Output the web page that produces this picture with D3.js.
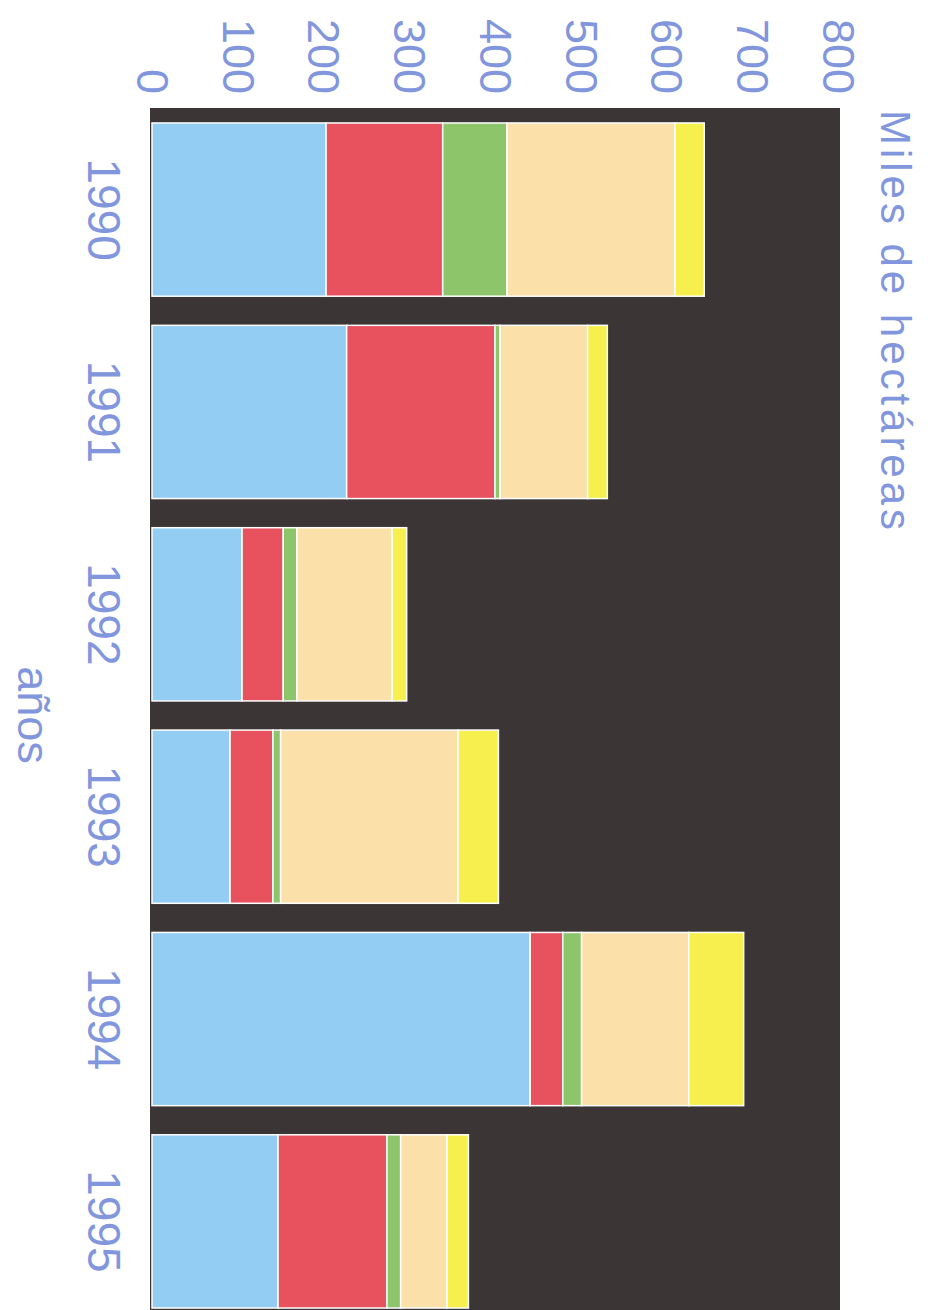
<!DOCTYPE html>
<html><head><meta charset="utf-8">
<script src="https://cdn.jsdelivr.net/npm/d3@7"></script>
<style>body{margin:0;background:#fff}svg{display:block}</style>
</head><body>
<svg id="c" width="931" height="1310"></svg>
<script>
// Data (miles de hectáreas), stacked from left to right
const years = ["1990","1991","1992","1993","1994","1995"];
const seriesKeys = ["s1","s2","s3","s4","s5"];
const s1 = [203, 227, 105, 91, 441, 147];   // azul
const s2 = [136, 173, 48, 50, 38, 127];     // rojo
const s3 = [75, 6, 16, 9, 22, 16];          // verde
const s4 = [196, 102, 111, 207, 125, 54];   // crema
const s5 = [34, 23, 17, 47, 64, 25];        // amarillo
const tickValues = [0,100,200,300,400,500,600,700,800];
const valueTitle = "Miles de hectáreas";
const catTitle = "años";

const colors = ["#93cdf3","#e8525f","#8dc66a","#fce0aa","#f6ef4e"];
const textColor = "#8196dc";
const font = "'Liberation Sans', Arial, sans-serif";

const rows = years.map((y,i)=>({year:y, s1:s1[i], s2:s2[i], s3:s3[i], s4:s4[i], s5:s5[i]}));
const stack = d3.stack().keys(seriesKeys)(rows);

const svg = d3.select("#c");
const x = d3.scaleLinear().domain([0,800]).range([152,838]);
const y = d3.scaleBand().domain(years).range([108,1323]).paddingInner(0.144).paddingOuter(0.074);

// plot background
svg.append("rect").attr("x", x(0)-2).attr("y", 108).attr("width", 840-(x(0)-2)).attr("height", 1323-108)
  .attr("fill", "#3b3536");

// bars
svg.append("g").selectAll("g").data(stack).join("g")
  .attr("fill", (d,i)=>colors[i])
  .selectAll("rect").data(d=>d).join("rect")
  .attr("x", d=>x(d[0]))
  .attr("width", d=>x(d[1])-x(d[0]))
  .attr("y", d=>y(d.data.year))
  .attr("height", y.bandwidth())
  .attr("stroke", "#ffffff").attr("stroke-width", 1.5);

// value axis (top)
const gx = svg.append("g").call(d3.axisTop(x).tickValues(tickValues).tickSize(0).tickFormat(d3.format("d")));
gx.select(".domain").remove();
gx.selectAll("text")
  .attr("x", 0).attr("y", 0).attr("dy", "0.35em")
  .attr("text-anchor", "end")
  .attr("transform", "translate(0,94) rotate(90)")
  .attr("fill", textColor).attr("font-size", 45).attr("font-family", font);

// category axis (left)
const gy = svg.append("g").call(d3.axisLeft(y).tickSize(0));
gy.select(".domain").remove();
gy.selectAll("text")
  .attr("x", 0).attr("y", 0).attr("dy", "0.35em")
  .attr("text-anchor", "middle")
  .attr("transform", "translate(104,0) rotate(90)")
  .attr("fill", textColor).attr("font-size", 46).attr("font-family", font);

// titles
svg.append("text").text(catTitle)
  .attr("transform", "translate(34,715) rotate(90)")
  .attr("text-anchor", "middle").attr("dy", "0.35em")
  .attr("fill", textColor).attr("font-size", 45).attr("font-family", font);

svg.append("text").text(valueTitle)
  .attr("transform", "translate(896,110) rotate(90)")
  .attr("text-anchor", "start").attr("dy", "0.35em")
  .attr("textLength", 420).attr("lengthAdjust", "spacing")
  .attr("fill", textColor).attr("font-size", 42).attr("font-family", font);
</script>
</body></html>
